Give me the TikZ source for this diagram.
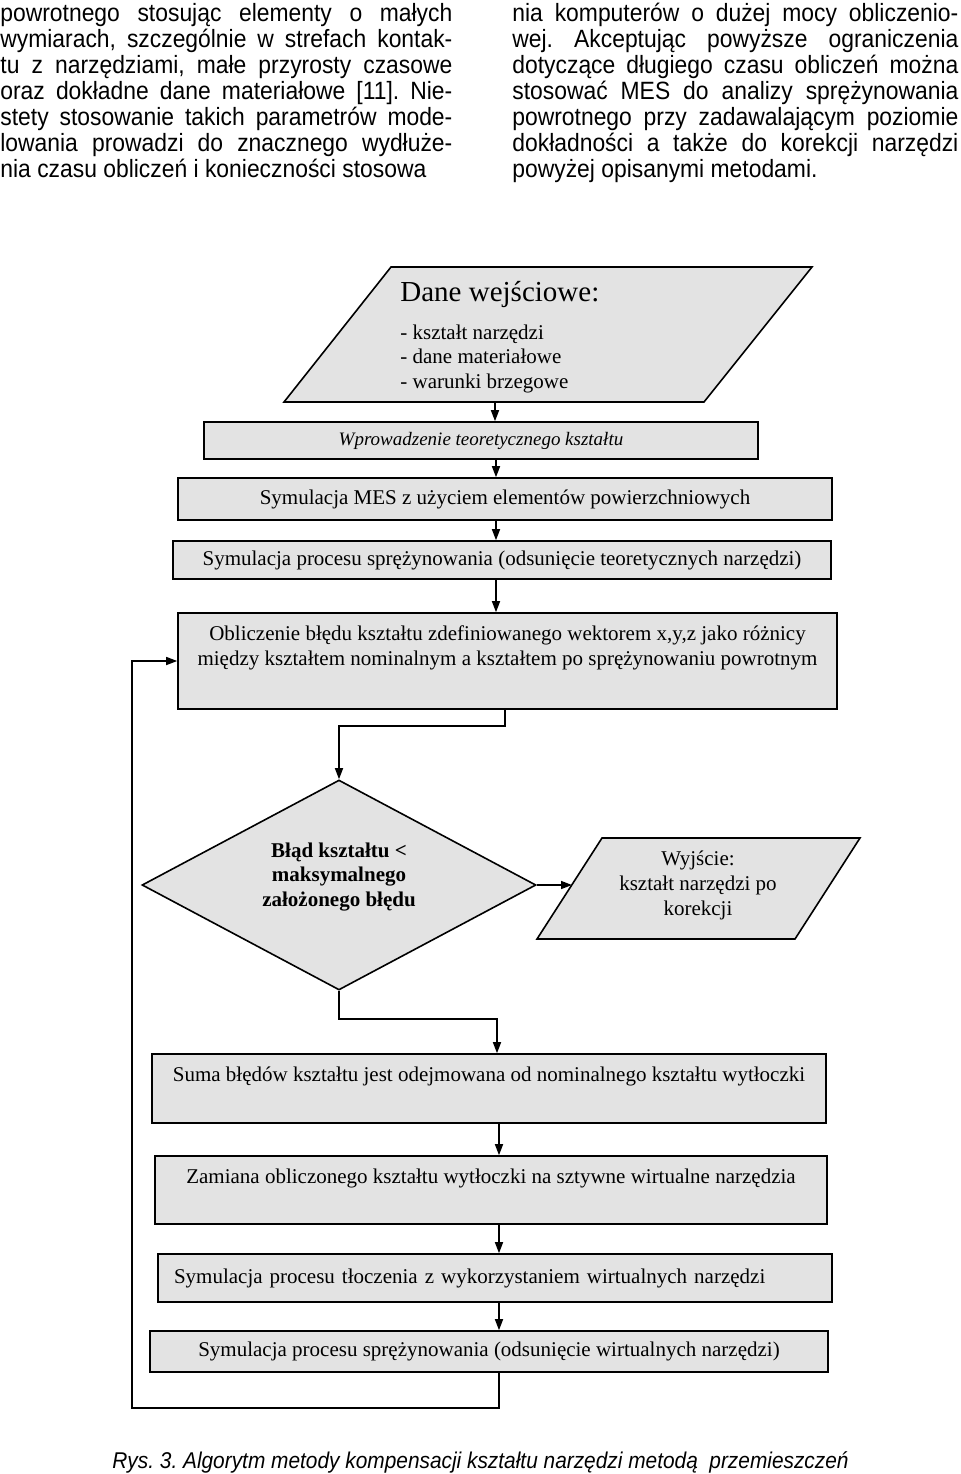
\documentclass[tikz,border=0pt]{standalone}
\usepackage{fontspec}
\setmainfont{Liberation Serif}
\newfontfamily\sansbody[FakeStretch=0.915]{Liberation Sans}
\usetikzlibrary{arrows.meta,shapes.geometric}
\definecolor{boxgray}{gray}{0.89}
\newcommand\jlL[1]{\makebox[226pt][s]{#1}}
\newcommand\jlR[1]{\makebox[223pt][s]{#1}}
\frenchspacing
\begin{document}
\begin{tikzpicture}[x=0.5pt,y=-0.5pt,
  body/.style={anchor=base west, inner sep=0pt, font=\sansbody\fontsize{12.5}{13}\selectfont},
  flow/.style={draw, line width=0.8pt, fill=boxgray, inner sep=0pt, align=center, font=\fontsize{10.5}{12.5}\selectfont},
  ftext/.style={inner sep=0pt, font=\fontsize{10.5}{12.5}\selectfont},
  arr/.style={line width=0.75pt, -{Triangle[length=5.5pt,width=4pt]}},
  ln/.style={line width=0.8pt}]
\useasboundingbox (0,0) rectangle (960,1474);
% ---- body text, left column
\node[body] (l1) at (0,21)  {\jlL{powrotnego stosując elementy o małych}};
\node[body] (l2) at (0,47)  {\jlL{wymiarach, szczególnie w strefach kontak-}};
\node[body] (l3) at (0,73)  {\jlL{tu z narzędziami, małe przyrosty czasowe}};
\node[body] (l4) at (0,99)  {\jlL{oraz dokładne dane materiałowe [11]. Nie-}};
\node[body] (l5) at (0,125) {\jlL{stety stosowanie takich parametrów mode-}};
\node[body] (l6) at (0,151) {\jlL{lowania prowadzi do znacznego wydłuże-}};
\node[body] (l7) at (0,177) {nia czasu obliczeń i konieczności stosowa};
% ---- body text, right column
\node[body] (r1) at (512,21)  {\jlR{nia komputerów o dużej mocy obliczenio-}};
\node[body] (r2) at (512,47)  {\jlR{wej. Akceptując powyższe ograniczenia}};
\node[body] (r3) at (512,73)  {\jlR{dotyczące długiego czasu obliczeń można}};
\node[body] (r4) at (512,99)  {\jlR{stosować MES do analizy sprężynowania}};
\node[body] (r5) at (512,125) {\jlR{powrotnego przy zadawalającym poziomie}};
\node[body] (r6) at (512,151) {\jlR{dokładności a także do korekcji narzędzi}};
\node[body] (r7) at (512,177) {powyżej opisanymi metodami.};
% ---- input parallelogram
\coordinate (p1) at (284,402);
\coordinate (p2) at (391,267);
\coordinate (p3) at (812,267);
\coordinate (p4) at (704,402);
\draw[ln, fill=boxgray] (p1) -- (p2) -- (p3) -- (p4) -- cycle;
\coordinate (inb) at (495,402);
\node[anchor=base west, inner sep=0pt, font=\fontsize{14.5}{16}\selectfont] (in0) at (400,301) {Dane wejściowe:};
\node[ftext, anchor=base west] (in1) at (400,339) {- kształt narzędzi};
\node[ftext, anchor=base west] (in2) at (400,363) {- dane materiałowe};
\node[ftext, anchor=base west] (in3) at (400,388) {- warunki brzegowe};
% ---- boxes
\node[flow, minimum width=277pt, minimum height=18.5pt, font=\itshape\fontsize{9.5}{11}\selectfont] (wpr) at (481,440.5) {Wprowadzenie teoretycznego kształtu};
\node[flow, minimum width=327pt, minimum height=21pt] (mes) at (505,499) {Symulacja MES z użyciem elementów powierzchniowych};
\node[flow, minimum width=329pt, minimum height=19pt] (spr1) at (502,560) {Symulacja procesu sprężynowania (odsunięcie teoretycznych narzędzi)};
\node[flow, minimum width=329.5pt, minimum height=48pt] (obl) at (507.5,661) {Obliczenie błędu kształtu zdefiniowanego wektorem x,y,z jako różnicy\\między kształtem nominalnym a kształtem po sprężynowaniu powrotnym\\[-1pt]\strut};
% ---- decision
\node[draw, diamond, line width=0.8pt, fill=boxgray, minimum width=197pt, minimum height=105pt, inner sep=0pt] (dia) at (339,885) {};
\node[ftext, align=center, font=\bfseries\fontsize{10.5}{12.3}\selectfont] (dtext) at (339,877) {Błąd kształtu <\\maksymalnego\\założonego błędu};
% ---- output parallelogram
\coordinate (w1) at (537,939);
\coordinate (w2) at (602,838);
\coordinate (w3) at (860,838);
\coordinate (w4) at (795,939);
\draw[ln, fill=boxgray] (w1) -- (w2) -- (w3) -- (w4) -- cycle;
\coordinate (wyjl) at (572,885);
\node[ftext, align=center] (wyj) at (698,885) {Wyjście:\\kształt narzędzi po\\korekcji};
% ---- lower boxes
\node[flow, minimum width=337pt, minimum height=34.5pt] (suma) at (489,1088.5) {Suma błędów kształtu jest odejmowana od nominalnego kształtu wytłoczki\\[-2pt]\strut};
\node[flow, minimum width=336pt, minimum height=34pt] (zam) at (491,1190) {Zamiana obliczonego kształtu wytłoczki na sztywne wirtualne narzędzia\\[-2pt]\strut};
\node[flow, minimum height=24pt, text width=321pt, inner xsep=8pt, align=left] (tlo) at (495,1278) {Symulacja procesu tłoczenia z wykorzystaniem wirtualnych narzędzi};
\node[flow, minimum width=339pt, minimum height=20.5pt] (spr2) at (489,1351.5) {Symulacja procesu sprężynowania (odsunięcie wirtualnych narzędzi)};
% ---- connectors
\coordinate (ca) at (496,0);
\coordinate (cb) at (505,726);
\coordinate (cc) at (497,1019);
\coordinate (cd) at (499,0);
\coordinate (ce) at (132,1408);
\draw[arr] (inb) -- (inb |- wpr.north);
\draw[arr] (wpr.south -| ca) -- (mes.north -| ca);
\draw[arr] (mes.south -| ca) -- (spr1.north -| ca);
\draw[arr] (spr1.south -| ca) -- (obl.north -| ca);
\draw[arr] (obl.south -| cb) -- (cb) -| (dia.north);
\draw[arr] (dia.east) -- (wyjl);
\draw[arr] (dia.south) |- (cc) -- (cc |- suma.north);
\draw[arr] (suma.south -| cd) -- (zam.north -| cd);
\draw[arr] (zam.south -| cd) -- (tlo.north -| cd);
\draw[arr] (tlo.south -| cd) -- (spr2.north -| cd);
\draw[arr] (spr2.south -| cd) |- (ce) |- (obl.west);
% ---- caption
\node[anchor=base west, inner sep=0pt, font=\sansbody\itshape\fontsize{11.4}{12}\selectfont] (cap) at (112,1468) {Rys. 3. Algorytm metody kompensacji kształtu narzędzi metodą\ \ przemieszczeń};
\end{tikzpicture}
\end{document}
